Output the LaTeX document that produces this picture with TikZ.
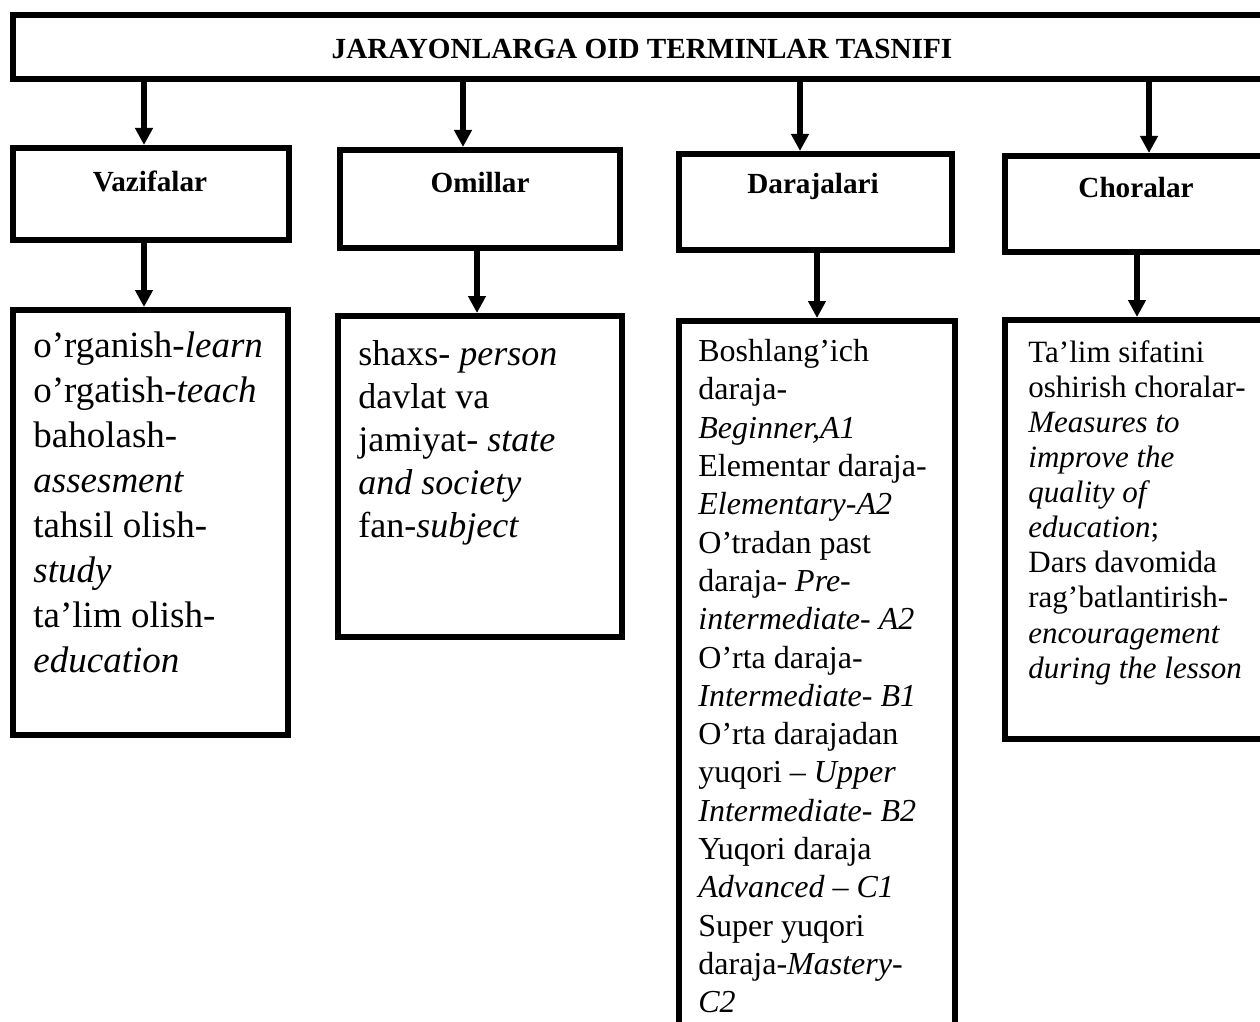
\documentclass[tikz,border=0pt]{standalone}
\usepackage{fontspec}
\setmainfont{Liberation Serif}
\usetikzlibrary{arrows.meta}
\begin{document}
\begin{tikzpicture}[x=0.5pt,y=-0.5pt,
  boxx/.style={draw=black, line width=3pt, rectangle, inner sep=0pt},
  head/.style={inner sep=0pt, font=\bfseries\fontsize{14.6}{17}\selectfont},
  arr/.style={line width=3pt, -{Triangle[width=8.5pt,length=8.5pt]}},
  txt/.style={inner sep=0pt, anchor=north west, align=left}
]
\useasboundingbox (0,0) rectangle (1260,1022);
\clip (0,0) rectangle (1260,1022);

% title
\node[boxx, minimum width=642pt, minimum height=32pt] (title) at (655,47) {};
\node[head] (titlet) at (642,49) {JARAYONLARGA OID TERMINLAR TASNIFI};

% header boxes
\node[boxx, minimum width=138pt, minimum height=46pt] (vaz) at (151,194) {};
\node[boxx, minimum width=140pt, minimum height=49pt] (omi) at (480,199) {};
\node[boxx, minimum width=136.5pt, minimum height=48pt] (dar) at (815.5,202) {};
\node[boxx, minimum width=146pt, minimum height=48pt] (cho) at (1151,204) {};
\node[head] (vazt) at (150,181) {Vazifalar};
\node[head] (omit) at (480,183) {Omillar};
\node[head] (dart) at (813,186) {Darajalari};
\node[head] (chot) at (1136,188) {Choralar};

% lower boxes
\node[boxx, minimum width=137.5pt, minimum height=212.5pt] (l1) at (150.5,522.5) {};
\node[boxx, minimum width=142pt, minimum height=160.5pt] (l2) at (480,476.5) {};
\node[boxx, minimum width=138pt, minimum height=388pt] (l3) at (817,709) {};
\node[boxx, minimum width=146pt, minimum height=209.5pt] (l4) at (1151,529.5) {};

% arrow columns
\coordinate (a1) at (144,0);
\coordinate (a2) at (463,0);
\coordinate (a3) at (800,0);
\coordinate (a4) at (1149,0);
\coordinate (b1) at (144,0);
\coordinate (b2) at (477,0);
\coordinate (b3) at (817,0);
\coordinate (b4) at (1137,0);

\draw[arr] (title.south -| a1) -- (vaz.north -| a1);
\draw[arr] (title.south -| a2) -- (omi.north -| a2);
\draw[arr] (title.south -| a3) -- (dar.north -| a3);
\draw[arr] (title.south -| a4) -- (cho.north -| a4);
\draw[arr] (vaz.south -| b1) -- (l1.north -| b1);
\draw[arr] (omi.south -| b2) -- (l2.north -| b2);
\draw[arr] (dar.south -| b3) -- (l3.north -| b3);
\draw[arr] (cho.south -| b4) -- (l4.north -| b4);

% texts
\node[txt, font=\fontsize{18.5}{22.5}\selectfont] (l1t) at (33,331) {%
o’rganish-\textit{learn}\\
o’rgatish-\textit{teach}\\
baholash-\\
\textit{assesment}\\
tahsil olish-\\
\textit{study}\\
ta’lim olish-\\
\textit{education}};

\node[txt, font=\fontsize{18}{21.5}\selectfont] (l2t) at (358,340) {%
shaxs- \textit{person}\\
davlat va\\
jamiyat- \textit{state}\\
\textit{and society}\\
fan-\textit{subject}};

\node[txt, font=\fontsize{16}{19.15}\selectfont] (l3t) at (698,339) {%
Boshlang’ich\\
daraja-\\
\textit{Beginner,A1}\\
Elementar daraja-\\
\textit{Elementary-A2}\\
O’tradan past\\
daraja- \textit{Pre-}\\
\textit{intermediate- A2}\\
O’rta daraja-\\
\textit{Intermediate- B1}\\
O’rta darajadan\\
yuqori – \textit{Upper}\\
\textit{Intermediate- B2}\\
Yuqori daraja\\
\textit{Advanced – C1}\\
Super yuqori\\
daraja-\textit{Mastery-}\\
\textit{C2}};

\node[txt, font=\fontsize{15.5}{17.55}\selectfont] (l4t) at (1028,340) {%
Ta’lim sifatini\\
oshirish choralar-\\
\textit{Measures to}\\
\textit{improve the}\\
\textit{quality of}\\
\textit{education};\\
Dars davomida\\
rag’batlantirish-\\
\textit{encouragement}\\
\textit{during the lesson}};
\end{tikzpicture}
\end{document}
